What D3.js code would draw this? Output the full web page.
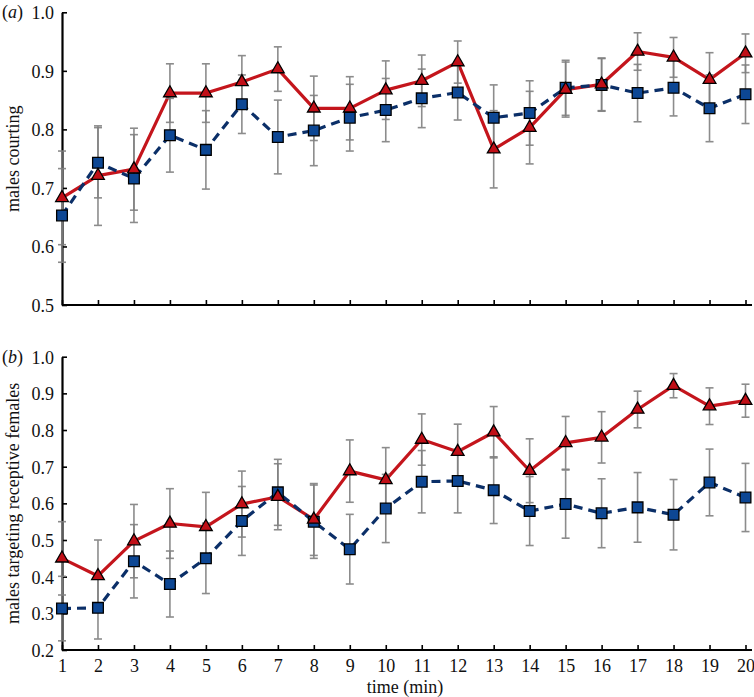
<!DOCTYPE html>
<html><head><meta charset="utf-8">
<script src="https://cdn.jsdelivr.net/npm/d3@7"></script>
<style>
html,body{margin:0;padding:0;background:#fff;}
text{font-family:"Liberation Serif","Times New Roman",serif;}
</style></head>
<body>
<svg id="chart" width="754" height="697"></svg>
<script>
const minutes = [1,2,3,4,5,6,7,8,9,10,11,12,13,14,15,16,17,18,19,20];
const xTickLabels = ["1","2","3","4","5","6","7","8","9","10","11","12","13","14","15","16","17","18","19","20"];

const aRed = [0.683,0.721,0.732,0.862,0.862,0.881,0.903,0.836,0.836,0.867,0.883,0.915,0.766,0.803,0.868,0.877,0.933,0.923,0.885,0.930];
const aRedErr = [0.08,0.085,0.07,0.05,0.05,0.045,0.038,0.055,0.054,0.05,0.044,0.036,0.066,0.062,0.047,0.045,0.032,0.034,0.046,0.033];
const aBlue = [0.653,0.743,0.716,0.790,0.765,0.843,0.787,0.798,0.820,0.833,0.853,0.863,0.820,0.828,0.871,0.876,0.862,0.871,0.836,0.860];
const aBlueErr = [0.08,0.06,0.075,0.063,0.067,0.05,0.063,0.06,0.057,0.054,0.05,0.047,0.056,0.055,0.047,0.045,0.049,0.048,0.057,0.05];

const bRed = [0.450,0.402,0.497,0.545,0.536,0.598,0.618,0.556,0.688,0.664,0.774,0.741,0.794,0.689,0.765,0.780,0.856,0.921,0.865,0.880];
const bRedErr = [0.1,0.098,0.1,0.095,0.094,0.09,0.09,0.098,0.085,0.088,0.07,0.075,0.07,0.087,0.072,0.07,0.05,0.033,0.05,0.045];
const bBlue = [0.313,0.315,0.442,0.380,0.450,0.552,0.630,0.550,0.475,0.586,0.659,0.661,0.636,0.579,0.598,0.573,0.589,0.569,0.657,0.616];
const bBlueErr = [0.088,0.085,0.1,0.09,0.096,0.094,0.09,0.1,0.095,0.093,0.085,0.087,0.091,0.094,0.093,0.094,0.095,0.096,0.091,0.093];

const aYTicks = [0.5,0.6,0.7,0.8,0.9,1.0];
const bYTicks = [0.2,0.3,0.4,0.5,0.6,0.7,0.8,0.9,1.0];

const svg = d3.select("#chart");
const x = d3.scaleLinear().domain([1,20]).range([62,745.5]);
const FONT = "Liberation Serif, Times New Roman, serif";
const FS = 18;

const RED = "#c4151c", RED_FILL = "#c00f17";
const BLUE = "#0b2f68", BLUE_FILL = "#0d4794";
const GREY = "#808080";

function panel(cfg){
  const y = d3.scaleLinear().domain(cfg.domain).range([cfg.bottom, cfg.top]);
  const g = svg.append("g");

  const ya = d3.axisLeft(y).tickValues(cfg.yTicks).tickFormat(d3.format(".1f")).tickSize(-5).tickSizeOuter(0).tickPadding(8);
  const yg = g.append("g").attr("transform",`translate(${x.range()[0]},0)`).call(ya);
  const xa = d3.axisBottom(x).tickValues(minutes).tickSize(-5).tickSizeOuter(0).tickPadding(9)
     .tickFormat((d,i)=> cfg.showX ? xTickLabels[i] : "");
  const xg = g.append("g").attr("transform",`translate(0,${cfg.bottom})`).call(xa);
  [yg,xg].forEach(a=>{
    a.attr("font-family",FONT).attr("font-size",FS);
    a.select(".domain").attr("stroke","#000").attr("stroke-width",2.2);
    a.selectAll(".tick line").attr("stroke","#000").attr("stroke-width",1.6);
    a.selectAll(".tick text").attr("font-size",FS).attr("fill","#111").attr("font-family",FONT);
  });
  yg.selectAll(".tick text").attr("dy","0.36em");
  xg.select(".domain").attr("d",`M${x.range()[0]},0H${752}`);

  const line = d3.line().x((d,i)=>x(minutes[i])).y(d=>y(d));
  g.append("path").attr("d",line(cfg.red)).attr("fill","none").attr("stroke",RED).attr("stroke-width",3.2).attr("stroke-linejoin","round");
  g.append("path").attr("d",line(cfg.blue)).attr("fill","none").attr("stroke",BLUE).attr("stroke-width",3.2).attr("stroke-dasharray","9,6");

  function errs(vals, err){
    const eg = g.append("g").attr("stroke",GREY).attr("stroke-width",1.6).attr("fill","none").attr("opacity",0.9);
    vals.forEach((v,i)=>{
      const cx = x(minutes[i]), y1 = y(v+err[i]), y2 = y(v-err[i]);
      eg.append("line").attr("x1",cx).attr("x2",cx).attr("y1",y1).attr("y2",y2);
      eg.append("line").attr("x1",cx-4).attr("x2",cx+4).attr("y1",y1).attr("y2",y1);
      eg.append("line").attr("x1",cx-4).attr("x2",cx+4).attr("y1",y2).attr("y2",y2);
    });
  }
  errs(cfg.blue, cfg.blueErr);
  errs(cfg.red, cfg.redErr);

  const sq = d3.symbol().type(d3.symbolSquare).size(115);
  const tri = d3.symbol().type(d3.symbolTriangle).size(70);
  g.append("g").selectAll("path").data(cfg.blue).join("path")
    .attr("d",sq).attr("transform",(d,i)=>`translate(${x(minutes[i])},${y(d)})`)
    .attr("fill",BLUE_FILL).attr("stroke","#000").attr("stroke-width",1.3);
  g.append("g").selectAll("path").data(cfg.red).join("path")
    .attr("d",tri).attr("transform",(d,i)=>`translate(${x(minutes[i])},${y(d)})`)
    .attr("fill",RED_FILL).attr("stroke","#000").attr("stroke-width",1.3);

  svg.append("text").attr("transform",`translate(${cfg.ylx},${(cfg.top+cfg.bottom)/2}) rotate(-90)`)
    .attr("text-anchor","middle").attr("font-size",FS).attr("font-family",FONT).attr("fill","#111").text(cfg.ylabel);
  const pl = svg.append("text").attr("x",2).attr("y",cfg.top+6).attr("font-size",FS).attr("font-family",FONT).attr("fill","#111");
  pl.append("tspan").text("(");
  pl.append("tspan").attr("font-style","italic").text(cfg.letter);
  pl.append("tspan").text(")");
}

panel({domain:[0.5,1.0], top:12.3, bottom:305, yTicks:aYTicks, showX:false,
  red:aRed, redErr:aRedErr, blue:aBlue, blueErr:aBlueErr, ylabel:"males courting", ylx:19, letter:"a"});
panel({domain:[0.2,1.0], top:356.7, bottom:650, yTicks:bYTicks, showX:true,
  red:bRed, redErr:bRedErr, blue:bBlue, blueErr:bBlueErr, ylabel:"males targeting receptive females", ylx:19, letter:"b"});

svg.append("text").attr("x",405).attr("y",693).attr("text-anchor","middle").attr("font-size",FS).attr("font-family",FONT).attr("fill","#111").text("time (min)");
</script>
</body></html>
